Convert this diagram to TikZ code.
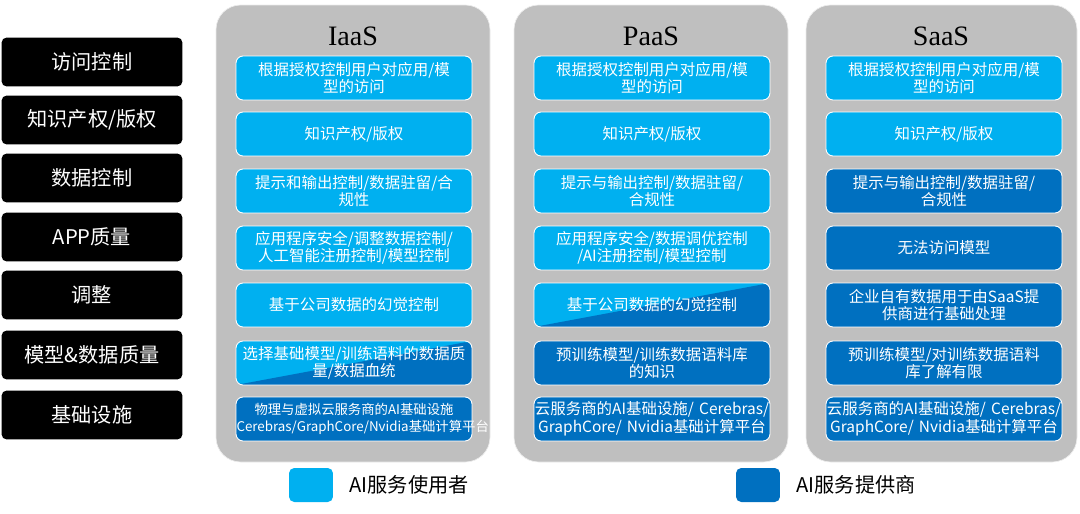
\documentclass[tikz,border=0pt]{standalone}
\usepackage{fontspec}
\usetikzlibrary{positioning}
\setmainfont{Liberation Serif}
\newfontfamily\cjk{Noto Sans CJK SC}
\definecolor{lightblue}{HTML}{00B0F0}
\definecolor{darkblue}{HTML}{0070C0}
\definecolor{panelgray}{HTML}{BFBFBF}
\tikzset{
  rowlabel/.style={fill=black, text=white, rounded corners=3pt, minimum width=3.62cm, minimum height=0.98cm, font=\cjk\fontsize{11.5}{13}\selectfont},
  panel/.style={fill=panelgray, draw=white!85!gray, rounded corners=14pt},
  cell/.style={draw=white, line width=0.5pt, rounded corners=4pt, text=white, minimum width=4.72cm, minimum height=0.88cm, text width=4.7cm, align=center, font=\cjk\fontsize{8.8}{10}\selectfont, inner sep=0pt},
  usercell/.style={cell, fill=lightblue},
  provcell/.style={cell, fill=darkblue},
  splitcell/.style={cell, fill=lightblue, path picture={\fill[darkblue] (path picture bounding box.south west) -- (path picture bounding box.north east) |- cycle;}},
  paneltitle/.style={font=\fontsize{16}{18}\selectfont}
}
\begin{document}
\begin{tikzpicture}[x=0.02cm, y=-0.02cm]
    \useasboundingbox (0,0) rectangle (1080,514);

    % row labels on the left
    \node[rowlabel] (r1) at (92,62) {访问控制};
    \node[rowlabel] (r2) at (92,120) {知识产权/版权};
    \node[rowlabel] (r3) at (92,178) {数据控制};
    \node[rowlabel] (r4) at (92,237) {APP质量};
    \node[rowlabel] (r5) at (92,295) {调整};
    \node[rowlabel] (r6) at (92,355) {模型\&数据质量};
    \node[rowlabel] (r7) at (92,415) {基础设施};

    % panels
    \draw[panel] (216,5) rectangle (490,462);
    \draw[panel] (514,5) rectangle (788,462);
    \draw[panel] (806,5) rectangle (1077,462);
    \node[paneltitle] (iaas) at (353,36) {IaaS};
    \node[paneltitle] (paas) at (651,36) {PaaS};
    \node[paneltitle] (saas) at (941,36) {SaaS};

    % IaaS
    \node[usercell] (i1) at (354,78) {根据授权控制用户对应用/模\\型的访问};
    \node[usercell] (i2) at (354,134) {知识产权/版权};
    \node[usercell] (i3) at (354,191) {提示和输出控制/数据驻留/合\\规性};
    \node[usercell] (i4) at (354,248) {应用程序安全/调整数据控制/\\人工智能注册控制/模型控制};
    \node[usercell] (i5) at (354,305) {基于公司数据的幻觉控制};
    \node[splitcell] (i6) at (354,363) {选择基础模型/训练语料的数据质\\量/数据血统};
    \node[provcell, font=\cjk\fontsize{7.6}{9.5}\selectfont] (i7) at (354,419) {物理与虚拟云服务商的AI基础设施\\Cerebras/GraphCore/Nvidia基础计算平台};

    % PaaS
    \node[usercell] (p1) at (652,78) {根据授权控制用户对应用/模\\型的访问};
    \node[usercell] (p2) at (652,134) {知识产权/版权};
    \node[usercell] (p3) at (652,191) {提示与输出控制/数据驻留/\\合规性};
    \node[usercell] (p4) at (652,248) {应用程序安全/数据调优控制\\/AI注册控制/模型控制};
    \node[splitcell] (p5) at (652,305) {基于公司数据的幻觉控制};
    \node[provcell] (p6) at (652,363) {预训练模型/训练数据语料库\\的知识};
    \node[provcell] (p7) at (652,419) {云服务商的AI基础设施/ Cerebras/\\GraphCore/ Nvidia基础计算平台};

    % SaaS
    \node[usercell] (s1) at (944,78) {根据授权控制用户对应用/模\\型的访问};
    \node[usercell] (s2) at (944,134) {知识产权/版权};
    \node[provcell] (s3) at (944,191) {提示与输出控制/数据驻留/\\合规性};
    \node[provcell] (s4) at (944,248) {无法访问模型};
    \node[provcell] (s5) at (944,305) {企业自有数据用于由SaaS提\\供商进行基础处理};
    \node[provcell] (s6) at (944,363) {预训练模型/对训练数据语料\\库了解有限};
    \node[provcell] (s7) at (944,419) {云服务商的AI基础设施/ Cerebras/\\GraphCore/ Nvidia基础计算平台};

    % legend
    \node[fill=lightblue, rounded corners=3pt, minimum width=0.88cm, minimum height=0.68cm] (userkey) at (311,485) {};
    \node[right=0.2cm of userkey, font=\cjk\fontsize{11.5}{13}\selectfont] (usertext) {AI服务使用者};
    \node[fill=darkblue, rounded corners=3pt, minimum width=0.88cm, minimum height=0.68cm] (provkey) at (758,485) {};
    \node[right=0.2cm of provkey, font=\cjk\fontsize{11.5}{13}\selectfont] (provtext) {AI服务提供商};
\end{tikzpicture}
\end{document}
